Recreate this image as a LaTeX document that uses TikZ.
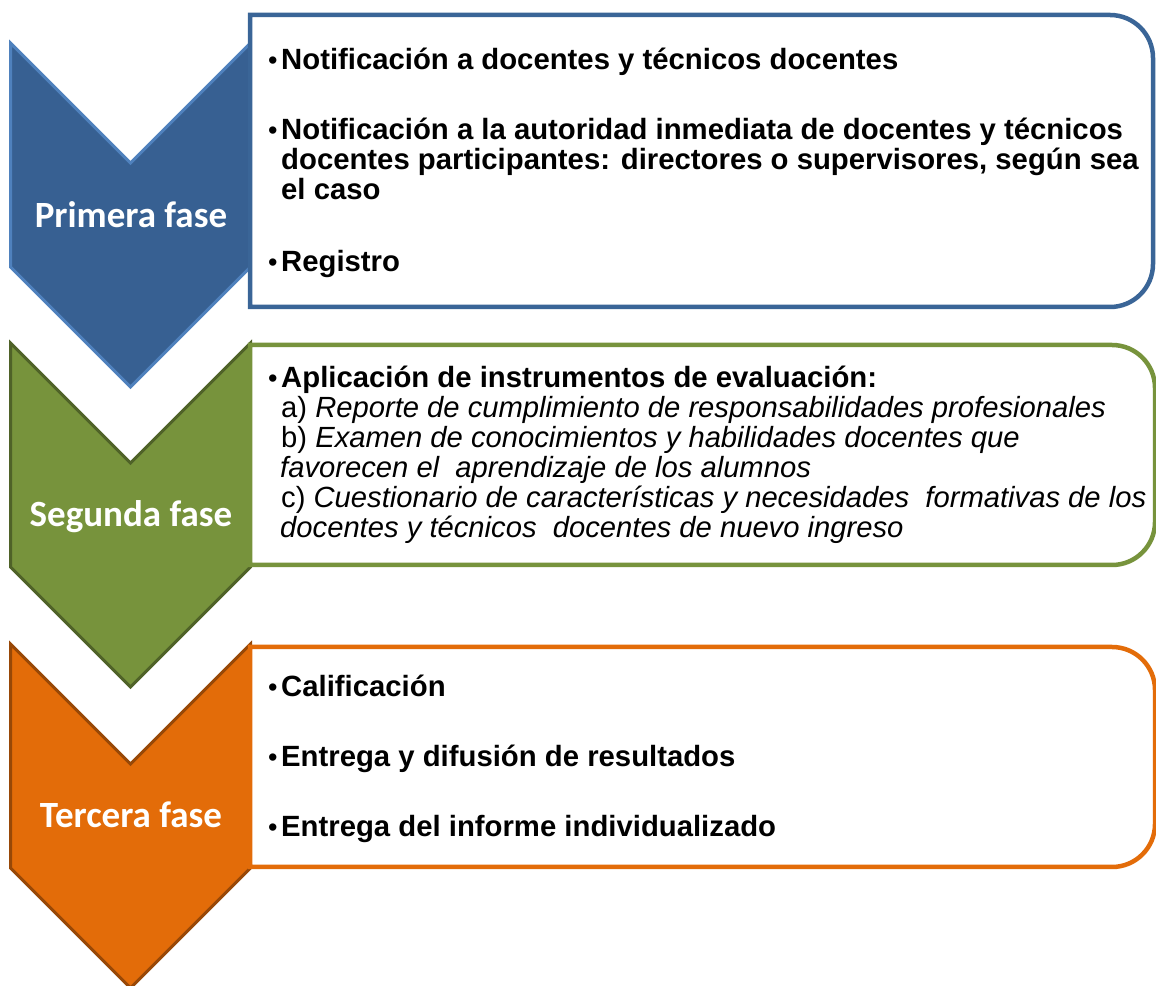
\documentclass[tikz,border=0pt]{standalone}
\usepackage{fontspec}
\setmainfont{Liberation Sans}
\newfontfamily\calib{Carlito}
\definecolor{blueF}{HTML}{376092}
\definecolor{blueB}{HTML}{4F81BD}
\definecolor{blueBox}{HTML}{3A6597}
\definecolor{greenF}{HTML}{77933C}
\definecolor{greenB}{HTML}{4F6228}
\definecolor{orangeF}{HTML}{E36C09}
\definecolor{orangeB}{HTML}{984807}
\tikzset{
  boldtxt/.style={anchor=base west, inner sep=0pt, font=\fontsize{29.3}{30}\selectfont\bfseries},
  plaintxt/.style={anchor=base west, inner sep=0pt, font=\fontsize{29.2}{30}\selectfont},
  bul/.style={anchor=base west, inner sep=0pt, font=\fontsize{27}{30}\selectfont},
  phase/.style={anchor=base, inner sep=0pt, text=white, font=\fontsize{37}{40}\selectfont\calib\bfseries},
  chev/.style={line width=3pt, line join=miter},
  boxline/.style={line width=4.5pt, fill=white},
}
\begin{document}
\begin{tikzpicture}[x=1pt,y=1pt]
\useasboundingbox (0,0) rectangle (1156,985);

% ---------- Phase 1 ----------
\draw[chev, fill=blueF, draw=blueB] (10.5,942) -- (130.5,822) -- (250.5,942) -- (250.5,718) -- (130.5,598) -- (10.5,718) -- cycle;
\node[phase] (p1) at (131,757) {Primera fase};
\draw[boxline, draw=blueBox] (250,970) -- (1110,970) arc[start angle=90,end angle=0,radius=43pt] -- (1153,721) arc[start angle=0,end angle=-90,radius=43pt] -- (250,678) -- cycle;
\node[bul] (b11) at (268,915) {•};
\node[boldtxt] (t11) at (281,915) {Notificación a docentes y técnicos docentes};
\node[bul] (b12) at (268,845) {•};
\node[boldtxt] (t12a) at (281,845) {Notificación a la autoridad inmediata de docentes y técnicos};
\node[boldtxt] (t12b) at (281,815) {docentes participantes: directores o supervisores, según sea};
\node[boldtxt] (t12c) at (281,785) {el caso};
\node[bul] (b13) at (268,713) {•};
\node[boldtxt] (t13) at (281,713) {Registro};

% ---------- Phase 2 ----------
\draw[chev, fill=greenF, draw=greenB] (10.5,642) -- (130.5,522) -- (250.5,642) -- (250.5,418) -- (130.5,298) -- (10.5,418) -- cycle;
\node[phase] (p2) at (131,458) {Segunda fase};
\draw[boxline, draw=greenF] (250,640) -- (1112,640) arc[start angle=90,end angle=0,radius=43pt] -- (1155,463) arc[start angle=0,end angle=-90,radius=43pt] -- (250,420) -- cycle;
\node[bul] (b21) at (268,597) {•};
\node[boldtxt] (t21) at (281,597) {Aplicación de instrumentos de evaluación:};
\node[plaintxt] (t22) at (281,567) {a) \textit{Reporte de cumplimiento de responsabilidades profesionales}};
\node[plaintxt] (t23) at (281,537) {b) \textit{Examen de conocimientos y habilidades docentes que}};
\node[plaintxt] (t24) at (280,507) {\textit{favorecen el\ \ aprendizaje de los alumnos}};
\node[plaintxt] (t25) at (281,477) {c) \textit{Cuestionario de características y necesidades\ \ formativas de los}};
\node[plaintxt] (t26) at (280,447) {\textit{docentes y técnicos\ \ docentes de nuevo ingreso}};

% ---------- Phase 3 ----------
\draw[chev, fill=orangeF, draw=orangeB] (10.5,341) -- (130.5,221) -- (250.5,341) -- (250.5,117) -- (130.5,-3) -- (10.5,117) -- cycle;
\node[phase] (p3) at (131,157) {Tercera fase};
\draw[boxline, draw=orangeF] (250,338) -- (1112,338) arc[start angle=90,end angle=0,radius=43pt] -- (1155,161) arc[start angle=0,end angle=-90,radius=43pt] -- (250,118) -- cycle;
\node[bul] (b31) at (268,288) {•};
\node[boldtxt] (t31) at (281,288) {Calificación};
\node[bul] (b32) at (268,218) {•};
\node[boldtxt] (t32) at (281,218) {Entrega y difusión de resultados};
\node[bul] (b33) at (268,148) {•};
\node[boldtxt] (t33) at (281,148) {Entrega del informe individualizado};
\end{tikzpicture}
\end{document}
